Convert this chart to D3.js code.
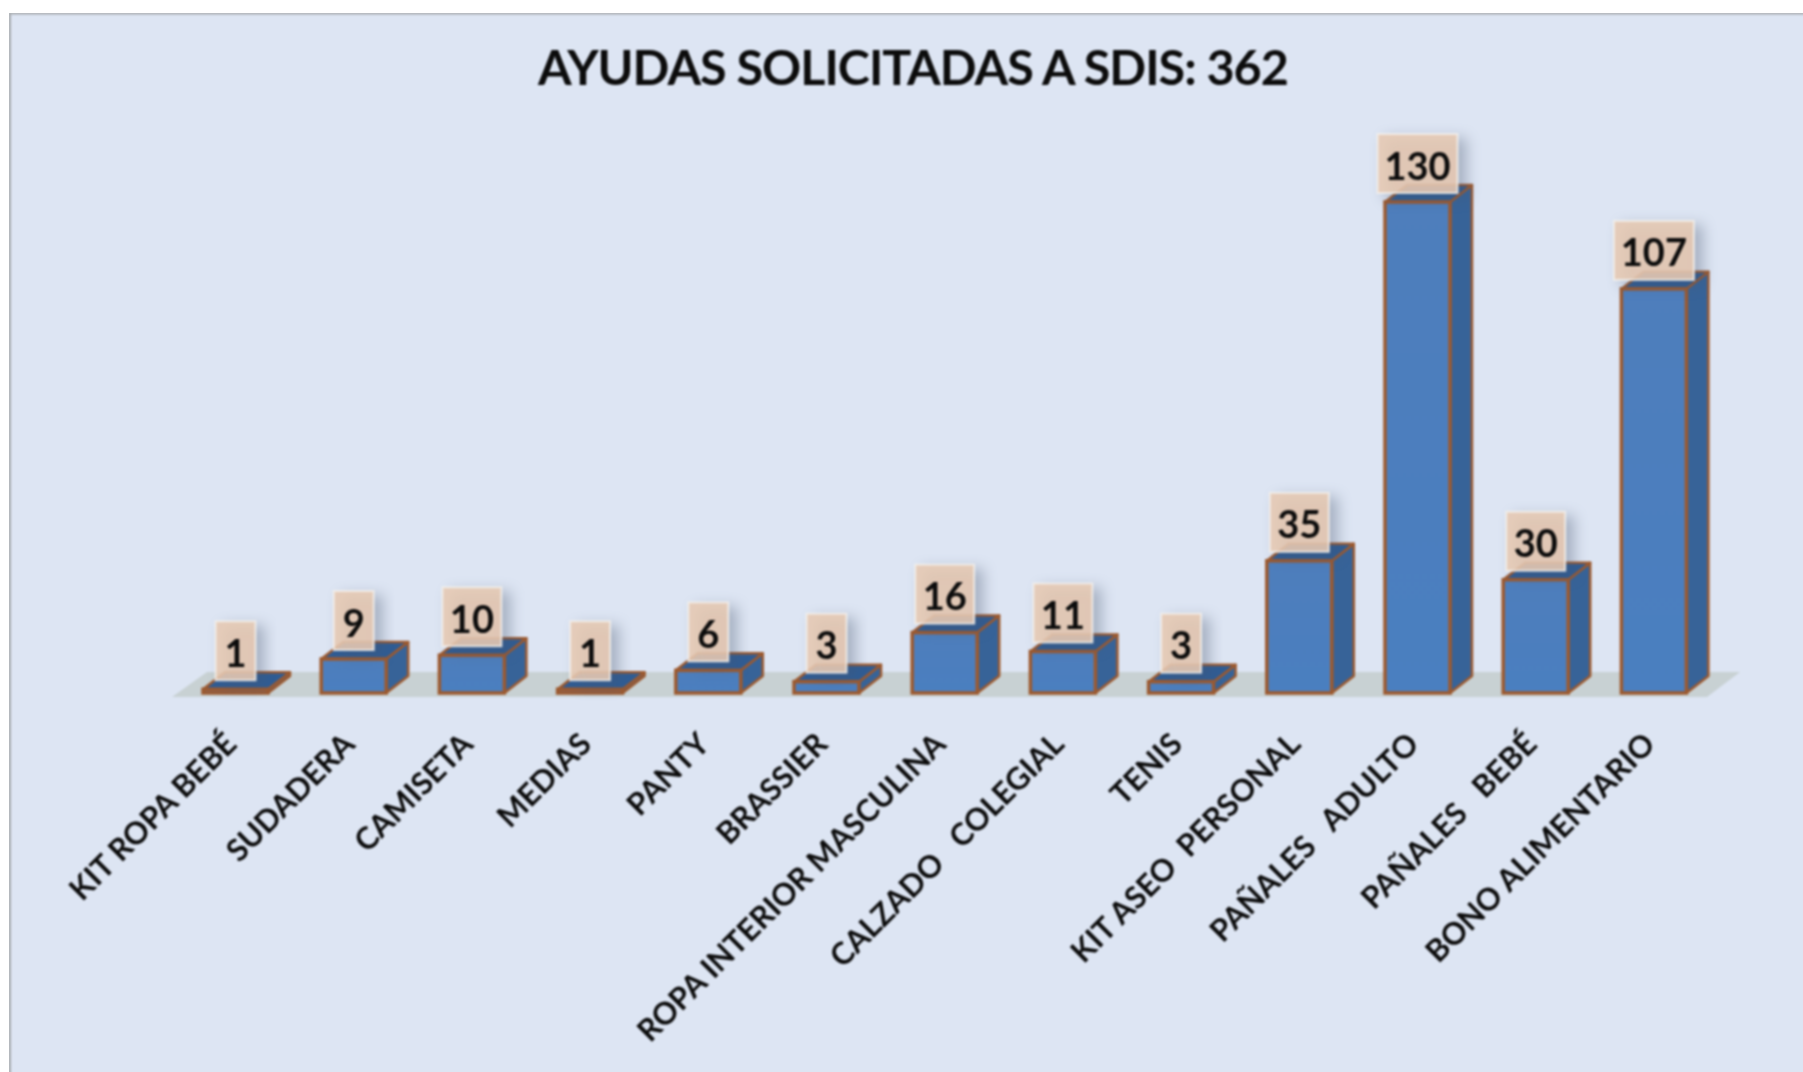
<!DOCTYPE html>
<html><head><meta charset="utf-8">
<script src="https://cdnjs.cloudflare.com/ajax/libs/d3/7.8.5/d3.min.js"></script>
<style>html,body{margin:0;padding:0;background:#fff;overflow:hidden}
svg{display:block}
text{font-family:Lato,"Open Sans",sans-serif;fill:#0c0c0c;white-space:pre}
</style></head><body>
<svg id="c" width="1803" height="1072"></svg>
<script>
const titleText = "AYUDAS SOLICITADAS A SDIS: 362";
const categories = ["KIT ROPA BEBÉ","SUDADERA","CAMISETA","MEDIAS","PANTY","BRASSIER","ROPA INTERIOR MASCULINA","CALZADO   COLEGIAL","TENIS","KIT ASEO  PERSONAL","PAÑALES   ADULTO","PAÑALES   BEBÉ","BONO ALIMENTARIO"];
const values = [1,9,10,1,6,3,16,11,3,35,130,30,107];

const W=1803,H=1072, baseY=693, depthX=22, depthY=17;
const step=118.2, barW=65, x0=203;
const svg=d3.select("#c");
const root=svg.append("g").attr("filter","url(#soft)");
const defs=svg.append("defs");
defs.append("filter").attr("id","soft").attr("x",0).attr("y",0).attr("width",1).attr("height",1)
  .attr("color-interpolation-filters","sRGB")
  .append("feGaussianBlur").attr("stdDeviation",1);
const sh=defs.append("filter").attr("id","shadow").attr("x","-40%").attr("y","-40%").attr("width","190%").attr("height","190%")
  .attr("color-interpolation-filters","sRGB");
sh.append("feDropShadow").attr("dx",8).attr("dy",5).attr("stdDeviation",7).attr("flood-color","#47566e").attr("flood-opacity",0.42);
const gr=defs.append("linearGradient").attr("id","front").attr("x1",0).attr("x2",0).attr("y1",0).attr("y2",1);
gr.append("stop").attr("offset",0).attr("stop-color","#4e7ebc");
gr.append("stop").attr("offset",1).attr("stop-color","#4a7fc0");

root.append("rect").attr("x",9.5).attr("y",13).attr("width",W).attr("height",H)
  .attr("fill","#dde5f3").attr("stroke","#a9adb1").attr("stroke-width",3);

const x=d3.scaleBand().domain(categories).range([x0,x0+12*step+barW]).paddingInner(1-barW/step).paddingOuter(0);
const y=d3.scaleLinear().domain([0,130]).range([baseY,202]);

root.append("text").attr("x",913).attr("y",85).attr("text-anchor","middle")
  .attr("font-size",48.5).attr("font-weight",700).attr("letter-spacing",-1).text(titleText);

// floor
root.append("path").attr("d",d3.line()([[172,697],[1707,697],[1740,672],[207,672]])+"Z").attr("fill","#c8d1d3");

const edge="#9c5a30";
const bars=root.selectAll("g.bar").data(categories.map((c,i)=>({c,v:values[i]}))).join("g").attr("class","bar");
bars.each(function(d){
  const g=d3.select(this), l=x(d.c), r=l+x.bandwidth(), t=y(d.v), b=y(0);
  g.append("path").attr("d",`M${r},${b}L${r+depthX},${b-depthY}L${r+depthX},${t-depthY}L${r},${t}Z`)
    .attr("fill","#376398").attr("stroke",edge).attr("stroke-width",2.5).attr("stroke-linejoin","round");
  g.append("path").attr("d",`M${l},${t}L${l+depthX},${t-depthY}L${r+depthX},${t-depthY}L${r},${t}Z`)
    .attr("fill","#2f5c94").attr("stroke",edge).attr("stroke-width",2.5).attr("stroke-linejoin","round");
  g.append("rect").attr("x",l).attr("y",t).attr("width",r-l).attr("height",b-t)
    .attr("fill","url(#front)").attr("stroke",edge).attr("stroke-width",3.5);
});

// data labels
const labels=root.selectAll("g.lab").data(categories.map((c,i)=>({c,v:values[i]}))).join("g").attr("class","lab");
labels.each(function(d){
  const g=d3.select(this), cx=x(d.c)+x.bandwidth()/2, top=y(d.v)-9;
  const digits=String(d.v).length, w=digits==1?40:digits==2?59:80, h=59;
  g.append("rect").attr("x",cx-w/2).attr("y",top-h).attr("width",w).attr("height",h)
    .attr("fill","#e7c9b3").attr("fill-opacity",0.88).attr("stroke","#f4f1ee").attr("stroke-opacity",0.8).attr("stroke-width",2)
    .attr("filter","url(#shadow)");
  g.append("text").attr("x",cx).attr("y",top-h/2+16).attr("text-anchor","middle")
    .attr("font-size",38).attr("font-weight",700).text(d.v);
});

// category axis
const ax=root.append("g").attr("transform",`translate(0,${baseY+35})`)
  .call(d3.axisBottom(x).tickSize(0).tickPadding(0));
ax.select(".domain").remove();
ax.selectAll("text").attr("font-size",30.8).attr("font-weight",700).attr("fill","#0c0c0c")
  .attr("font-family","Lato").attr("text-anchor","end").attr("dy",0).attr("y",0).attr("x",0)
  .attr("transform","translate(3,18) rotate(-45)");
</script></body></html>
